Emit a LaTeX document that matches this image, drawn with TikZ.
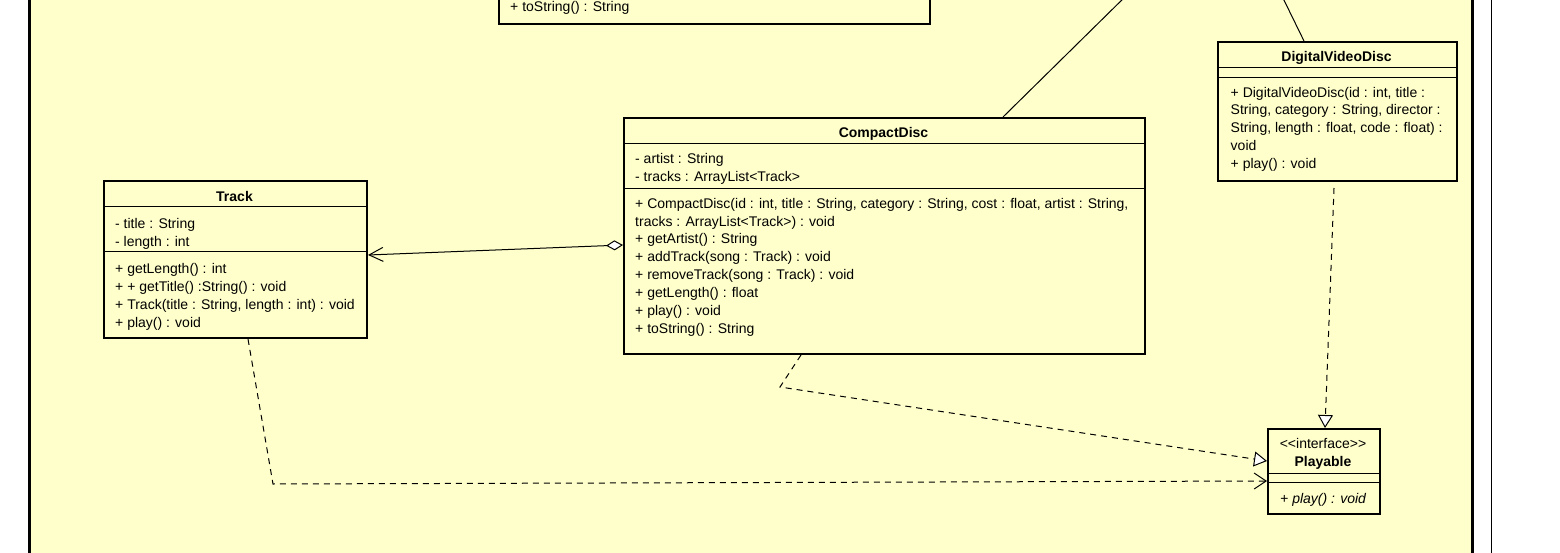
\documentclass[tikz,border=0pt]{standalone}
\usepackage{fontspec}
\setmainfont{Liberation Sans}
\usetikzlibrary{arrows.meta,calc}
\definecolor{pkg}{RGB}{255,255,204}
\begin{document}
\begin{tikzpicture}[x=1pt,y=-1pt,
  every node/.style={font=\fontsize{14}{16}\selectfont, inner sep=0pt},
  umlbox/.style={draw, line width=2pt, fill=pkg, anchor=north west, inner sep=0pt},
  txt/.style={anchor=base west},
  ttl/.style={anchor=base, font=\fontsize{14}{16}\selectfont\bfseries},
  sep/.style={line width=1pt},
  conn/.style={line width=1pt},
  dashconn/.style={line width=1pt, dash pattern=on 6pt off 5pt},
  realize/.style={-{Triangle[open,length=13pt,width=15pt,fill=white]}},
  depend/.style={-{Straight Barb[length=12pt,width=16pt]}},
]
\useasboundingbox (0,0) rectangle (1560,553);
\clip (0,0) rectangle (1560,553);
\fill[white] (0,0) rectangle (1560,553);
% package frame
\draw[line width=3pt, fill=pkg] (29.5,-20) rectangle (1472.5,580);
\draw[line width=1pt] (1491,-5) -- (1491,560);

% boxes
\node[umlbox, minimum width=431pt, minimum height=50pt] (media) at (498,-27) {};
\node[umlbox, minimum width=263pt, minimum height=157pt] (track) at (103,180) {};
\node[umlbox, minimum width=521pt, minimum height=236pt] (cd) at (623,117) {};
\node[umlbox, minimum width=239pt, minimum height=139pt] (dvd) at (1217,41) {};
\node[umlbox, minimum width=112pt, minimum height=85pt] (play) at (1267,428) {};

% separators
\draw[sep] ($(track.north west)+(0,27)$) -- ($(track.north east)+(0,27)$);
\draw[sep] ($(track.north west)+(0,72)$) -- ($(track.north east)+(0,72)$);
\draw[sep] ($(cd.north west)+(0,27)$) -- ($(cd.north east)+(0,27)$);
\draw[sep] ($(cd.north west)+(0,72)$) -- ($(cd.north east)+(0,72)$);
\draw[sep] ($(dvd.north west)+(0,27)$) -- ($(dvd.north east)+(0,27)$);
\draw[sep] ($(dvd.north west)+(0,37)$) -- ($(dvd.north east)+(0,37)$);
\draw[sep] ($(play.north west)+(0,45)$) -- ($(play.north east)+(0,45)$);
\draw[sep] ($(play.north west)+(0,54)$) -- ($(play.north east)+(0,54)$);

% media (partial)
\node[txt] (m1) at (510,12) {+ toString() : String};

% Track
\node[ttl] (tt) at (234.5,201.5) {Track};
\node[txt] (ta1) at (115,228.5) {- title : String};
\node[txt] (ta2) at (115,246.3) {- length : int};
\node[txt] (tm1) at (115,274) {+ getLength() : int};
\node[txt] (tm2) at (115,291.6) {+ + getTitle() :String() : void};
\node[txt] (tm3) at (115,309.3) {+ Track(title : String, length : int) : void};
\node[txt] (tm4) at (115,327) {+ play() : void};

% CompactDisc
\node[ttl] (ct) at (883.5,137.5) {CompactDisc};
\node[txt] (ca1) at (635,163.3) {- artist : String};
\node[txt] (ca2) at (635,181.2) {- tracks : ArrayList<Track>};
\node[txt] (cm1) at (635,208.3) {+ CompactDisc(id : int, title : String, category : String, cost : float, artist : String,};
\node[txt] (cm2) at (635,226.2) {tracks : ArrayList<Track>) : void};
\node[txt] (cm3) at (635,244) {+ getArtist() : String};
\node[txt] (cm4) at (635,261.9) {+ addTrack(song : Track) : void};
\node[txt] (cm5) at (635,279.7) {+ removeTrack(song : Track) : void};
\node[txt] (cm6) at (635,297.6) {+ getLength() : float};
\node[txt] (cm7) at (635,315.4) {+ play() : void};
\node[txt] (cm8) at (635,333.3) {+ toString() : String};

% DigitalVideoDisc
\node[ttl] (dt) at (1336.5,61.5) {DigitalVideoDisc};
\node[txt] (dm1) at (1230.5,97.1) {+ DigitalVideoDisc(id : int, title :};
\node[txt] (dm2) at (1230.5,114.9) {String, category : String, director :};
\node[txt] (dm3) at (1230.5,132.7) {String, length : float, code : float) :};
\node[txt] (dm4) at (1230.5,150.5) {void};
\node[txt] (dm5) at (1230.5,168.3) {+ play() : void};

% Playable
\node[anchor=base] (pst) at (1323,448.5) {<\kern0pt<interface>\kern0pt>};
\node[ttl] (pt) at (1323,466.5) {Playable};
\node[txt, font=\fontsize{14}{16}\selectfont\itshape] (pm1) at (1280,503) {+ play() : void};

% connectors
\coordinate (cdUp) at (1132,-10);
\coordinate (dvdUp) at (1279,-10);
\draw[conn] ($(cd.north west)+(380,0)$) -- (cdUp);
\draw[conn] ($(dvd.north west)+(87,0)$) -- (dvdUp);

\draw[conn, {Diamond[open,length=17pt,width=10pt,fill=white]}-{Straight Barb[length=14pt,width=14pt]}]
  ($(cd.north west)+(0,128)$) -- ($(track.north east)+(0,75)$);

\draw[dashconn, realize] ($(dvd.south west)+(117,6)$) -- ($(play.north west)+(58,0)$);

\coordinate (cdBend) at (780,387);
\draw[dashconn, realize] ($(cd.south west)+(178,0)$) -- (cdBend) -- ($(play.north west)+(0,33)$);

\coordinate (trBend) at (273,484);
\draw[dashconn, depend] ($(track.south west)+(145,0)$) -- (trBend) -- ($(play.north west)+(0,53)$);
\end{tikzpicture}
\end{document}
